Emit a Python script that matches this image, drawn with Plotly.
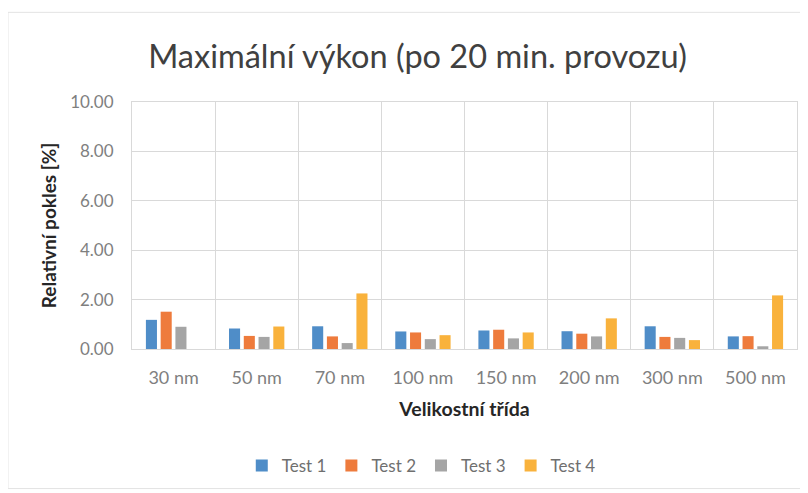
import plotly.graph_objects as go

categories = ["30 nm", "50 nm", "70 nm", "100 nm", "150 nm", "200 nm", "300 nm", "500 nm"]
test1 = [1.18, 0.83, 0.92, 0.71, 0.75, 0.72, 0.92, 0.51]
test2 = [1.51, 0.53, 0.51, 0.67, 0.78, 0.62, 0.49, 0.52]
test3 = [0.90, 0.49, 0.24, 0.40, 0.43, 0.51, 0.45, 0.11]
test4 = [0.00, 0.91, 2.25, 0.56, 0.67, 1.24, 0.36, 2.17]
series_names = ["Test 1", "Test 2", "Test 3", "Test 4"]
colors = ["#4F8DC8", "#EE7B3C", "#A5A5A5", "#F9B23C"]
y_ticks = [0, 2, 4, 6, 8, 10]

FONT = "Lato"

fig = go.Figure()
for name, vals, col in zip(series_names, [test1, test2, test3, test4], colors):
    fig.add_trace(go.Bar(name=name, x=categories, y=vals, marker_color=col,
                         marker_line_width=0))

fig.update_layout(
    width=800, height=485,
    margin=dict(l=124, r=11, t=94, b=143),
    paper_bgcolor="white", plot_bgcolor="white",
    barmode="group", bargap=0.29, bargroupgap=0.25,
    font=dict(family=FONT, color="#7f7f7f"),
    title=dict(text="Maximální výkon (po 20 min. provozu)", x=0.512, xanchor="center",
               y=0.9, yanchor="middle", font=dict(family=FONT, size=32.5, color="#404040")),
    legend=dict(orientation="h", x=0.435, xanchor="center", y=-0.468, yanchor="middle",
                font=dict(family=FONT, size=17, color="#6f6f6f"), itemwidth=30,
                traceorder="normal"),
    showlegend=True,
)
fig.update_xaxes(
    tickson="boundaries", showgrid=True, gridcolor="#d9d9d9", gridwidth=1,
    showline=True, linecolor="#d9d9d9", mirror=True, ticks="",
    tickfont=dict(family=FONT, size=18, color="#7f7f7f"), ticklabelstandoff=12,
    title=dict(text="<b>Velikostní třída</b>", font=dict(family=FONT, size=19.5, color="#262626"),
               standoff=15),
)
fig.update_yaxes(
    range=[0, 10], tickvals=y_ticks, tickformat=".2f", showgrid=True,
    gridcolor="#d9d9d9", gridwidth=1, zeroline=False,
    showline=True, linecolor="#d9d9d9", mirror=True, ticks="",
    tickfont=dict(family=FONT, size=17, color="#7f7f7f"), ticklabelstandoff=14,
    title=dict(text="<b>Relativní pokles [%]</b>", font=dict(family=FONT, size=19, color="#262626"),
               standoff=8),
)
# faint outer chart border
fig.add_shape(type="rect", xref="paper", yref="paper",
              x0=-0.1865, x1=1.0135, y0=-0.565, y1=1.363,
              line=dict(color="#e3e3e3", width=1), layer="below")

fig.write_html("out.html")
